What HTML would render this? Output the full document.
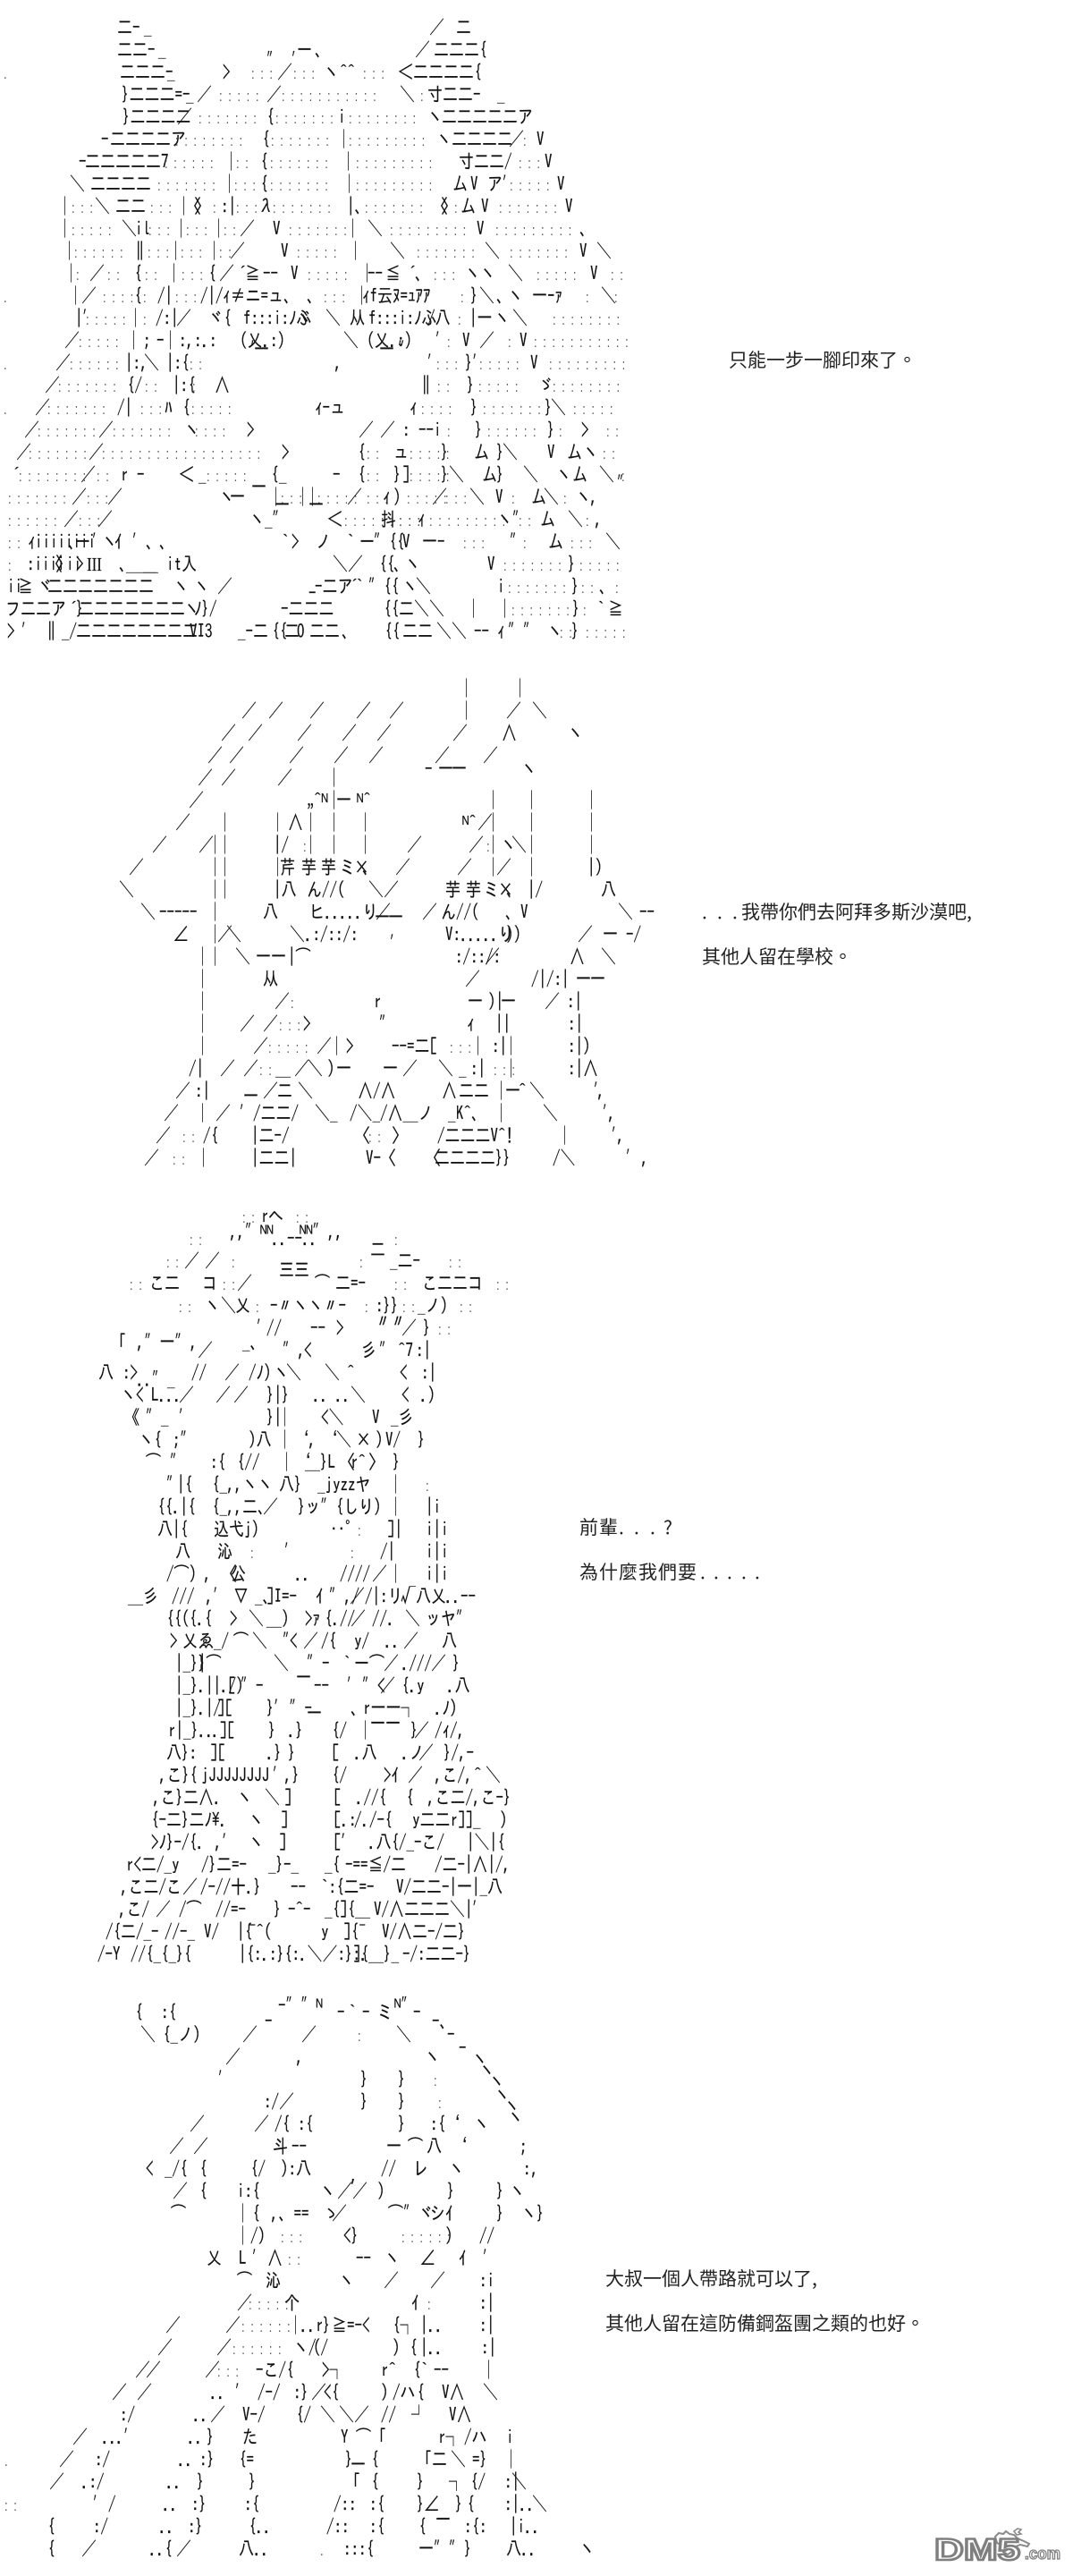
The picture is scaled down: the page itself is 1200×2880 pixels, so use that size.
<!DOCTYPE html>
<html lang="zh-Hant"><head><meta charset="utf-8"><title>AA</title>
<style>
html,body{margin:0;padding:0;background:#fff;width:1200px;height:2880px;overflow:hidden}
svg{display:block;position:absolute;left:0;top:0}
.a text{font-family:IPAGothic,"Noto Sans CJK JP","Liberation Sans",sans-serif;font-size:17px;fill:#111;stroke:#111;stroke-width:.15px}
.a .d{font-family:"Liberation Sans",sans-serif;font-size:13px;letter-spacing:6.6px;fill:#555;stroke:none}
.t text{font-family:"WenQuanYi Zen Hei","Noto Sans CJK TC","Liberation Sans",sans-serif;font-size:21px;fill:#222}
</style></head><body>
<svg width="1200" height="2880" viewBox="0 0 1200 2880" xmlns="http://www.w3.org/2000/svg">
<g class="a" transform="translate(0 2) scale(1 1.25)">
<!-- AA 1 -->
<text y="28.8"><tspan x="131">二-</tspan><tspan x="161">_</tspan><tspan x="480">／</tspan><tspan x="510">二</tspan></text>
<text y="48.8"><tspan x="131">二二-</tspan><tspan x="177">_</tspan><tspan x="332">ー</tspan><tspan x="352">、</tspan><tspan x="464">／</tspan><tspan x="485">二二二{</tspan></text>
<text y="58"><tspan x="298">″</tspan><tspan x="326">′</tspan></text>
<text y="68.8"><tspan class="d" x="4">.</tspan><tspan x="134">二二二-</tspan><tspan x="187">_</tspan><tspan x="249">&gt;</tspan><tspan class="d" x="281">:::</tspan><tspan x="310">／</tspan><tspan class="d" x="328">:::</tspan><tspan x="362">丶</tspan><tspan x="380">^^</tspan><tspan class="d" x="406">:::</tspan><tspan x="445">＜二二二二{</tspan></text>
<text y="88.8"><tspan x="136">}二二二=-</tspan><tspan x="208">_</tspan><tspan x="220">／</tspan><tspan class="d" x="245">:::::</tspan><tspan x="298">／</tspan><tspan class="d" x="315">:::::::::::</tspan><tspan x="447">＼</tspan><tspan class="d" x="470">:</tspan><tspan x="478">寸二二-</tspan><tspan x="556">_</tspan></text>
<text y="108.8"><tspan x="137">}二二二二</tspan><tspan x="198">／</tspan><tspan class="d" x="222">:::::::</tspan><tspan x="298">{</tspan><tspan class="d" x="308">:::::::</tspan><tspan x="378">i</tspan><tspan class="d" x="390">::::::::</tspan><tspan x="478">丶</tspan><tspan x="494">二二二二二ア</tspan></text>
<text y="128.8"><tspan x="113">-</tspan><tspan x="123">二二二二ア</tspan><tspan class="d" x="196">::::::::</tspan><tspan x="293">{</tspan><tspan class="d" x="303">:::::::</tspan><tspan x="376">│</tspan><tspan class="d" x="390">:::::::::</tspan><tspan x="488">丶</tspan><tspan x="505">二二二二</tspan><tspan x="569">／</tspan><tspan class="d" x="585">:</tspan><tspan x="600">V</tspan></text>
<text y="148.8"><tspan x="88">-</tspan><tspan x="95">二二二二二7</tspan><tspan class="d" x="184">::::::</tspan><tspan x="250">│</tspan><tspan class="d" x="264">::</tspan><tspan x="291">{</tspan><tspan class="d" x="302">:::::::</tspan><tspan x="381">│</tspan><tspan class="d" x="398">:::::::::</tspan><tspan x="513">寸二二/</tspan><tspan class="d" x="580">:::</tspan><tspan x="609">V</tspan></text>
<text y="168.8"><tspan x="78">＼</tspan><tspan x="101">二二二二</tspan><tspan class="d" x="176">:::::::</tspan><tspan x="248">│</tspan><tspan class="d" x="262">:::</tspan><tspan x="291">{</tspan><tspan class="d" x="302">:::::::</tspan><tspan x="382">│</tspan><tspan class="d" x="398">:::::::::</tspan><tspan x="506">厶</tspan><tspan x="526">V</tspan><tspan x="545">ア′</tspan><tspan class="d" x="570">:::::</tspan><tspan x="623">V</tspan></text>
<text y="188.8"><tspan x="64">│</tspan><tspan class="d" x="80">:::</tspan><tspan x="106">＼</tspan><tspan x="129">二二</tspan><tspan class="d" x="168">:::</tspan><tspan x="197">│</tspan><tspan x="208">〈</tspan><tspan x="217">〉</tspan><tspan class="d" x="238">:</tspan><tspan x="247">:|</tspan><tspan class="d" x="264">:::</tspan><tspan x="289">λ</tspan><tspan class="d" x="305">:::::::</tspan><tspan x="388">|、</tspan><tspan class="d" x="408">:::::::</tspan><tspan x="484">〈</tspan><tspan x="493">〉</tspan><tspan class="d" x="508">:</tspan><tspan x="515">厶</tspan><tspan x="538">V</tspan><tspan class="d" x="558">:::::::</tspan><tspan x="632">V</tspan></text>
<text y="208.8"><tspan x="64">│</tspan><tspan class="d" x="80">:::::</tspan><tspan x="136">＼</tspan><tspan x="151">il</tspan><tspan class="d" x="166">:::</tspan><tspan x="194">│</tspan><tspan class="d" x="208">:::</tspan><tspan x="236">│</tspan><tspan class="d" x="250">::</tspan><tspan x="268">／</tspan><tspan x="305">V</tspan><tspan class="d" x="323">:::::::</tspan><tspan x="386">│</tspan><tspan x="411">＼</tspan><tspan class="d" x="436">:::::::::</tspan><tspan x="533">V</tspan><tspan class="d" x="554">:::::::::</tspan><tspan x="648">､</tspan></text>
<text y="228.8"><tspan x="69">│</tspan><tspan class="d" x="83">::::::</tspan><tspan x="148">‖</tspan><tspan class="d" x="165">:::</tspan><tspan x="188">│</tspan><tspan class="d" x="202">:::</tspan><tspan x="231">│</tspan><tspan class="d" x="245">::</tspan><tspan x="257">／</tspan><tspan x="314">V</tspan><tspan class="d" x="332">:::::</tspan><tspan x="389">│</tspan><tspan x="436">＼</tspan><tspan class="d" x="466">:::::::</tspan><tspan x="542">＼</tspan><tspan class="d" x="570">:::::::</tspan><tspan x="648">V</tspan><tspan x="667">＼</tspan></text>
<text y="248.8"><tspan x="71">│</tspan><tspan class="d" x="85">:</tspan><tspan x="100">／</tspan><tspan class="d" x="120">::</tspan><tspan x="150">{</tspan><tspan class="d" x="162">::</tspan><tspan x="186">│</tspan><tspan class="d" x="203">:::</tspan><tspan x="233">{</tspan><tspan x="245">／</tspan><tspan x="263">´</tspan><tspan x="274">≧</tspan><tspan x="294">--</tspan><tspan x="325">V</tspan><tspan class="d" x="344">:::::</tspan><tspan x="402">│</tspan><tspan x="411">--</tspan><tspan x="431">≦</tspan><tspan x="453">´</tspan><tspan x="464">､</tspan><tspan class="d" x="485">:::</tspan><tspan x="520">丶丶</tspan><tspan x="568">＼</tspan><tspan class="d" x="600">:::::</tspan><tspan x="660">V</tspan><tspan class="d" x="683">::</tspan></text>
<text y="268.8"><tspan class="d" x="4">.</tspan><tspan x="76">│</tspan><tspan x="91">／</tspan><tspan class="d" x="115">::::</tspan><tspan x="150">{</tspan><tspan class="d" x="160">:</tspan><tspan x="176">/|</tspan><tspan class="d" x="196">:::</tspan><tspan x="224">/|/</tspan><tspan x="249">ｨ≠ニ=ュ、</tspan><tspan x="343">、</tspan><tspan class="d" x="362">:::</tspan><tspan x="396">│</tspan><tspan x="405">ｨf云ﾇ=ｭｱｱ</tspan><tspan class="d" x="515">:</tspan><tspan x="526">}</tspan><tspan x="536">＼</tspan><tspan x="555">、</tspan><tspan x="568">丶</tspan><tspan x="595">一ｰｧ</tspan><tspan class="d" x="655">:</tspan><tspan x="672">＼</tspan><tspan class="d" x="687">:</tspan></text>
<text y="288.8"><tspan x="84">|′</tspan><tspan class="d" x="96">:::::</tspan><tspan x="143">│</tspan><tspan class="d" x="160">:</tspan><tspan x="174">/:|</tspan><tspan x="197">／</tspan><tspan x="233">ヾ{</tspan><tspan x="272">f:::i:ﾉふ</tspan><tspan x="332">ヾ</tspan><tspan x="364">＼</tspan><tspan x="391">从</tspan><tspan x="412">f:::i:ﾉふ</tspan><tspan x="478">/八</tspan><tspan class="d" x="512">:</tspan><tspan x="525">|一</tspan><tspan x="553">丶</tspan><tspan x="573">＼</tspan><tspan class="d" x="618">::::::::</tspan></text>
<text y="308.8"><tspan x="72">／</tspan><tspan class="d" x="88">:::::</tspan><tspan x="141">│</tspan><tspan x="160">;</tspan><tspan x="175">-</tspan><tspan x="182">│</tspan><tspan x="200">:,:.:</tspan><tspan x="268">(乂.:)</tspan><tspan x="384">＼</tspan><tspan x="410">(乂.:)</tspan><tspan x="487">′</tspan><tspan class="d" x="500">:</tspan><tspan x="517">V</tspan><tspan x="536">／</tspan><tspan class="d" x="568">:</tspan><tspan x="581">V</tspan><tspan class="d" x="597">:::::::::::</tspan></text>
<text y="317"><tspan x="280">′</tspan><tspan x="284">一</tspan><tspan x="424">一</tspan><tspan x="445">″</tspan></text>
<text y="328.8"><tspan class="d" x="4">.</tspan><tspan x="62">／</tspan><tspan class="d" x="78">::::::</tspan><tspan x="140">|:,</tspan><tspan x="161">＼</tspan><tspan x="186">|:{</tspan><tspan class="d" x="212">::</tspan><tspan x="374">,</tspan><tspan x="478">′</tspan><tspan class="d" x="488">:::</tspan><tspan x="520">}′</tspan><tspan class="d" x="536">:::::</tspan><tspan x="593">V</tspan><tspan class="d" x="614">:::::::::</tspan></text>
<text y="348.8"><tspan x="50">／</tspan><tspan class="d" x="65">:::::::</tspan><tspan x="142">{/</tspan><tspan class="d" x="162">::</tspan><tspan x="193">|:{</tspan><tspan class="d" x="215">:</tspan><tspan x="240">∧</tspan><tspan x="468">‖</tspan><tspan class="d" x="489">::</tspan><tspan x="522">}</tspan><tspan class="d" x="535">:::::</tspan><tspan x="602">ゞ</tspan><tspan class="d" x="618">::::::::</tspan></text>
<text y="368.8"><tspan class="d" x="4">.</tspan><tspan x="39">／</tspan><tspan class="d" x="53">:::::::</tspan><tspan x="131">/|</tspan><tspan class="d" x="157">:::</tspan><tspan x="184">ﾊ</tspan><tspan x="204">{</tspan><tspan class="d" x="214">:::::</tspan><tspan x="352">ｨ-ュ</tspan><tspan x="458">ｨ</tspan><tspan class="d" x="471">::::</tspan><tspan x="526">}</tspan><tspan class="d" x="540">:::::::</tspan><tspan x="609">}</tspan><tspan x="616">＼</tspan><tspan class="d" x="641">:::::</tspan></text>
<text y="388.8"><tspan x="27">／</tspan><tspan class="d" x="42">:::::::</tspan><tspan x="110">／</tspan><tspan class="d" x="126">:::::::</tspan><tspan x="206">丶</tspan><tspan class="d" x="218">::::</tspan><tspan x="276">&gt;</tspan><tspan x="401">／</tspan><tspan x="425">／</tspan><tspan x="450">:</tspan><tspan x="468">--i</tspan><tspan class="d" x="500">:</tspan><tspan x="531">}</tspan><tspan class="d" x="545">::::::</tspan><tspan x="612">}</tspan><tspan class="d" x="625">:</tspan><tspan x="650">&gt;</tspan><tspan class="d" x="678">::</tspan></text>
<text y="408.8"><tspan x="18">／</tspan><tspan class="d" x="32">:::::::</tspan><tspan x="99">／</tspan><tspan class="d" x="114">::::::::::::::::::</tspan><tspan x="315">&gt;</tspan><tspan x="400">{</tspan><tspan class="d" x="410">::</tspan><tspan x="440">ュ</tspan><tspan class="d" x="458">:::::</tspan><tspan x="493">}</tspan><tspan x="530">厶</tspan><tspan x="555">}</tspan><tspan x="562">＼</tspan><tspan x="612">V</tspan><tspan x="634">厶</tspan><tspan x="652">丶</tspan><tspan class="d" x="674">::</tspan></text>
<text y="428.8"><tspan x="10">´</tspan><tspan class="d" x="21">::::::::</tspan><tspan x="90">／</tspan><tspan class="d" x="108">::</tspan><tspan x="135">r</tspan><tspan x="153">-</tspan><tspan x="200">＜</tspan><tspan x="222">_</tspan><tspan class="d" x="231">:::::</tspan><tspan x="303">{</tspan><tspan x="312">_</tspan><tspan x="372">-</tspan><tspan x="400">{</tspan><tspan class="d" x="410">::</tspan><tspan x="440">}</tspan><tspan x="450">]</tspan><tspan class="d" x="458">:::::</tspan><tspan x="493">}</tspan><tspan x="502">＼</tspan><tspan x="539">厶</tspan><tspan x="555">}</tspan><tspan x="585">＼</tspan><tspan x="622">丶</tspan><tspan x="640">厶</tspan><tspan x="670">＼</tspan><tspan class="d" x="695">:</tspan></text>
<text y="448.8"><tspan class="d" x="9">:::::::</tspan><tspan x="80">／</tspan><tspan class="d" x="97">:::</tspan><tspan x="120">／</tspan><tspan x="245">丶</tspan><tspan x="257">一</tspan><tspan x="281" y="440">一</tspan><tspan x="300" y="448.8">│</tspan><tspan class="d" x="314">:::</tspan><tspan x="330">│</tspan><tspan x="341">│</tspan><tspan class="d" x="355">:::::</tspan><tspan x="388">／</tspan><tspan class="d" x="410">:::</tspan><tspan x="428">ｨ</tspan><tspan x="440">)</tspan><tspan class="d" x="455">:::::</tspan><tspan x="483">／</tspan><tspan class="d" x="498">:::</tspan><tspan x="525">＼</tspan><tspan x="554">V</tspan><tspan class="d" x="572">:</tspan><tspan x="594">厶</tspan><tspan x="608">＼</tspan><tspan class="d" x="630">:</tspan><tspan x="644">丶</tspan><tspan x="660">,</tspan><tspan x="690" y="437">″</tspan></text>
<text y="456"><tspan x="307">一</tspan><tspan x="345">一</tspan></text>
<text y="468.8"><tspan class="d" x="9">::::::</tspan><tspan x="71">／</tspan><tspan class="d" x="88">:::</tspan><tspan x="109">／</tspan><tspan x="279">丶</tspan><tspan x="296">_″</tspan><tspan x="366">＜</tspan><tspan class="d" x="385">:::::::::</tspan><tspan x="426">抖</tspan><tspan class="d" x="446">:::</tspan><tspan x="467">ｨ</tspan><tspan class="d" x="480">:::::::::</tspan><tspan x="556">丶″</tspan><tspan class="d" x="580">::</tspan><tspan x="604">厶</tspan><tspan x="635">＼</tspan><tspan class="d" x="655">:</tspan><tspan x="665">,</tspan></text>
<text y="488.8"><tspan class="d" x="9">::</tspan><tspan x="31">ｨ</tspan><tspan x="39">iiiiiiii</tspan><tspan x="76">、</tspan><tspan x="84">ー</tspan><tspan x="103">′</tspan><tspan x="114">丶</tspan><tspan x="128">ｲ</tspan><tspan x="148">′</tspan><tspan x="163">､</tspan><tspan x="178">､</tspan><tspan x="315">`</tspan><tspan x="326">&gt;</tspan><tspan x="353">ノ</tspan><tspan x="388">`</tspan><tspan x="402">ー</tspan><tspan x="418">″{{</tspan><tspan x="450">V</tspan><tspan x="472">一-</tspan><tspan class="d" x="518">:::</tspan><tspan x="570">″</tspan><tspan class="d" x="585">:</tspan><tspan x="613">厶</tspan><tspan class="d" x="638">:::</tspan><tspan x="677">＼</tspan></text>
<text y="508.8"><tspan class="d" x="9">:</tspan><tspan x="30">:iiii</tspan><tspan x="53">〈</tspan><tspan x="62">〉</tspan><tspan x="74">ii</tspan><tspan x="85">&gt;</tspan><tspan x="97" style="font-family:'Liberation Serif',serif">III</tspan><tspan x="133">、</tspan><tspan x="141">＿＿</tspan><tspan x="160">＿</tspan><tspan x="186">it入</tspan><tspan x="372">＼／</tspan><tspan x="424">{{</tspan><tspan x="440">、</tspan><tspan x="453">丶</tspan><tspan x="545">V</tspan><tspan class="d" x="563">:::::::</tspan><tspan x="635">}</tspan><tspan class="d" x="648">:::::</tspan></text>
<text y="528.8"><tspan x="8">ii</tspan><tspan x="20">≧</tspan><tspan x="42">ヾ</tspan><tspan x="53">二二二二二二二</tspan><tspan x="194">丶</tspan><tspan x="217">丶</tspan><tspan x="243">／</tspan><tspan x="352">-二ア</tspan><tspan x="388">´</tspan><tspan x="398">`</tspan><tspan x="412">″{{</tspan><tspan x="450">丶</tspan><tspan x="465">＼</tspan><tspan x="556">i</tspan><tspan class="d" x="568">:::::::</tspan><tspan x="639">}</tspan><tspan class="d" x="650">::</tspan><tspan x="670">、</tspan><tspan class="d" x="688">:</tspan></text>
<text y="548.8"><tspan x="6">フ二二ア</tspan><tspan x="74">´</tspan><tspan x="85">}</tspan><tspan x="88">二二二二二二二</tspan><tspan x="206">丶</tspan><tspan x="217">ﾉ}/</tspan><tspan x="314">-二二二</tspan><tspan x="345" y="535">-</tspan><tspan x="429" y="548.8">{{二</tspan><tspan x="463">＼＼</tspan><tspan x="521">│</tspan><tspan x="556">│</tspan><tspan class="d" x="572">:::::::</tspan><tspan x="640">}</tspan><tspan class="d" x="652">:</tspan><tspan x="668">`</tspan><tspan x="680">≧</tspan></text>
<text y="568.8"><tspan x="8">&gt;</tspan><tspan x="24">′</tspan><tspan x="49">‖</tspan><tspan x="69">_/</tspan><tspan x="85">二二二二二二二二</tspan><tspan x="212">VI3</tspan><tspan x="266">_-</tspan><tspan x="283">二</tspan><tspan x="304">{{</tspan><tspan x="318">二</tspan><tspan x="332">O</tspan><tspan x="346">二二</tspan><tspan x="382">、</tspan><tspan x="430">{{</tspan><tspan x="450">二二</tspan><tspan x="488">＼＼</tspan><tspan x="530">--</tspan><tspan x="556">ｨ</tspan><tspan x="568">″″</tspan><tspan x="612">丶</tspan><tspan class="d" x="626">::</tspan><tspan x="639">}</tspan><tspan class="d" x="655">:::::</tspan></text>

<!-- AA 2 -->
<text y="620"><tspan x="513">│</tspan><tspan x="573">│</tspan></text>
<text y="640"><tspan x="270">／</tspan><tspan x="300">／</tspan><tspan x="346">／</tspan><tspan x="398">／</tspan><tspan x="435">／</tspan><tspan x="513">│</tspan><tspan x="566">／</tspan><tspan x="595">＼</tspan></text>
<text y="660"><tspan x="247">／</tspan><tspan x="277">／</tspan><tspan x="332">／</tspan><tspan x="382">／</tspan><tspan x="421">／</tspan><tspan x="506">／</tspan><tspan x="561">∧</tspan><tspan x="635">丶</tspan></text>
<text y="680"><tspan x="232">／</tspan><tspan x="256">／</tspan><tspan x="323">／</tspan><tspan x="373">／</tspan><tspan x="412">／</tspan><tspan x="486">／</tspan><tspan x="540">／</tspan></text>
<text y="692"><tspan x="475">-</tspan><tspan x="490">一</tspan><tspan x="505">一</tspan><tspan x="583">丶</tspan></text>
<text y="700"><tspan x="221">／</tspan><tspan x="247">／</tspan><tspan x="310">／</tspan><tspan x="365">│</tspan></text>
<text y="720"><tspan x="211">／</tspan><tspan x="343">„^ᴺ</tspan><tspan x="365">│</tspan><tspan x="376">一</tspan><tspan x="399">ᴺ^</tspan><tspan x="543">│</tspan><tspan x="586">│</tspan><tspan x="653">│</tspan></text>
<text y="740"><tspan x="196">／</tspan><tspan x="243">│</tspan><tspan x="302">│</tspan><tspan x="322">∧</tspan><tspan x="339">│</tspan><tspan x="365">│</tspan><tspan x="400">│</tspan><tspan x="517">ᴺ^</tspan><tspan x="534">／</tspan><tspan x="543">│</tspan><tspan x="586">│</tspan><tspan x="653">│</tspan></text>
<text y="760"><tspan x="170">／</tspan><tspan x="222">／</tspan><tspan x="232">│</tspan><tspan x="243">│</tspan><tspan x="306">|/</tspan><tspan class="d" x="339">:</tspan><tspan x="339">│</tspan><tspan x="365">│</tspan><tspan x="400">│</tspan><tspan x="455">／</tspan><tspan x="524">／</tspan><tspan class="d" x="544">:</tspan><tspan x="543">│</tspan><tspan x="560">丶</tspan><tspan x="572">＼</tspan><tspan x="586">│</tspan><tspan x="653">│</tspan></text>
<text y="780"><tspan x="144">／</tspan><tspan x="232">│</tspan><tspan x="243">│</tspan><tspan x="302">│</tspan><tspan x="313">芹</tspan><tspan x="337">芋</tspan><tspan x="359">芋</tspan><tspan x="380">ミ</tspan><tspan x="396">×</tspan><tspan x="405">、</tspan><tspan x="442">／</tspan><tspan x="511">／</tspan><tspan x="543">│</tspan><tspan x="555">／</tspan><tspan x="586">│</tspan><tspan x="657">|)</tspan></text>
<text y="800"><tspan x="133">＼</tspan><tspan x="232">│</tspan><tspan x="243">│</tspan><tspan x="306">|八</tspan><tspan x="343">ん//(</tspan><tspan x="412">＼／</tspan><tspan x="498">芋</tspan><tspan x="521">芋</tspan><tspan x="541">ミ</tspan><tspan x="557">×</tspan><tspan x="566">、</tspan><tspan x="590">|/</tspan><tspan x="672">八</tspan></text>
<text y="820"><tspan x="157">＼</tspan><tspan x="178">-----</tspan><tspan x="232">│</tspan><tspan x="294">八</tspan><tspan x="346">ヒ.....り</tspan><tspan x="420">／</tspan><tspan x="472">／</tspan><tspan x="493">ん//(</tspan><tspan x="565">、V</tspan><tspan x="691">＼</tspan><tspan x="715">--</tspan></text>
<text y="825"><tspan x="419">一</tspan><tspan x="434">一</tspan></text>
<text y="840"><tspan x="194">∠</tspan><tspan x="232">│</tspan><tspan x="243">／</tspan><tspan x="253">＼</tspan><tspan x="324">＼</tspan><tspan x="341">.:/::/:</tspan><tspan x="498">V:.....り</tspan><tspan x="566">))</tspan><tspan x="646">／</tspan><tspan x="674">一</tspan><tspan x="700">-/</tspan></text>
<text y="860"><tspan x="218">│</tspan><tspan x="232">│</tspan><tspan x="263">＼</tspan><tspan x="286">一一</tspan><tspan x="322">|⌒</tspan><tspan x="436" y="848">′</tspan><tspan x="509" y="860">:/::/:</tspan><tspan x="542">／</tspan><tspan x="637">∧</tspan><tspan x="672">＼</tspan></text>
<text y="880"><tspan x="218">│</tspan><tspan x="294">从</tspan><tspan x="520">／</tspan><tspan x="594">/|/:|</tspan><tspan x="644">一</tspan><tspan x="660">一</tspan></text>
<text y="900"><tspan x="218">│</tspan><tspan x="307">／</tspan><tspan class="d" x="325">:</tspan><tspan x="418">r</tspan><tspan x="523">一</tspan><tspan x="546">)|</tspan><tspan x="560">一</tspan><tspan x="609">／</tspan><tspan x="634">:|</tspan></text>
<text y="920"><tspan x="218">│</tspan><tspan x="268">／</tspan><tspan x="294">／</tspan><tspan class="d" x="312">:::</tspan><tspan x="339">&gt;</tspan><tspan x="424">″</tspan><tspan x="522">ｨ</tspan><tspan x="554">||</tspan><tspan x="635">:|</tspan></text>
<text y="940"><tspan x="218">│</tspan><tspan x="283">／</tspan><tspan class="d" x="300">:::::</tspan><tspan x="354">／</tspan><tspan x="368">│</tspan><tspan x="387">&gt;</tspan><tspan x="438">--=二[</tspan><tspan class="d" x="503">:::</tspan><tspan x="526">│</tspan><tspan x="550">:|</tspan><tspan x="563">│</tspan><tspan x="635">:|)</tspan></text>
<text y="960"><tspan x="211">/|</tspan><tspan x="246">／</tspan><tspan x="272">／</tspan><tspan class="d" x="290">::</tspan><tspan x="308">__</tspan><tspan x="329">／</tspan><tspan x="344">＼</tspan><tspan x="366">)</tspan><tspan x="376">一</tspan><tspan x="428">一</tspan><tspan x="450">／</tspan><tspan x="490">＼</tspan><tspan x="513">_</tspan><tspan x="526">:|</tspan><tspan class="d" x="552">:::</tspan><tspan x="563">│</tspan><tspan x="635">:|∧</tspan></text>
<text y="980"><tspan x="196">／</tspan><tspan x="218">:|</tspan><tspan x="272" y="985">一</tspan><tspan x="294" y="980">／</tspan><tspan x="310">二</tspan><tspan x="333">＼</tspan><tspan x="400">∧/∧</tspan><tspan x="494">∧</tspan><tspan x="513">二二</tspan><tspan x="552">│</tspan><tspan x="565">一</tspan><tspan x="580">^</tspan><tspan x="592">＼</tspan><tspan x="664">′</tspan><tspan x="668">,</tspan></text>
<text y="1000"><tspan x="183">／</tspan><tspan x="218">│</tspan><tspan x="241">／</tspan><tspan x="268">′</tspan><tspan x="283">/二二/</tspan><tspan x="352">＼_</tspan><tspan x="391">/＼_/∧__ノ</tspan><tspan x="501">_</tspan><tspan x="510">K^、</tspan><tspan x="552">│</tspan><tspan x="607">＼</tspan><tspan x="674">′</tspan><tspan x="680">,</tspan></text>
<text y="1020"><tspan x="174">／</tspan><tspan class="d" x="204">::</tspan><tspan x="227">/{</tspan><tspan x="281">|二-/</tspan><tspan x="397">〈</tspan><tspan class="d" x="412">::</tspan><tspan x="438">〉</tspan><tspan x="489">/二二二V^!</tspan><tspan x="623">│</tspan><tspan x="684">′</tspan><tspan x="690">,</tspan></text>
<text y="1040"><tspan x="161">／</tspan><tspan class="d" x="193">::</tspan><tspan x="219">│</tspan><tspan x="281">|二二|</tspan><tspan x="409">V-〈</tspan><tspan x="476">〈</tspan><tspan x="486">二二二二}}</tspan><tspan x="618">/＼</tspan><tspan x="700">′,</tspan></text>

<!-- AA 3 -->
<text y="1092"><tspan class="d" x="271">::</tspan><tspan x="292">r</tspan><tspan x="300">へ</tspan><tspan class="d" x="331">::</tspan></text>
<text y="1106"><tspan x="257">,,″ᴺᴺ</tspan><tspan x="335">ᴺᴺ″,,</tspan></text>
<text y="1112"><tspan class="d" x="212">::</tspan><tspan x="304">..--..</tspan><tspan class="d" x="441">:</tspan></text>
<text y="1132"><tspan class="d" x="186">::</tspan><tspan x="206">／</tspan><tspan x="229">／</tspan><tspan class="d" x="259">:</tspan><tspan class="d" x="402">:</tspan><tspan x="414" y="1122">二</tspan><tspan x="436" y="1132">_二-</tspan><tspan class="d" x="502">::</tspan></text>
<text y="1140"><tspan x="312">三三</tspan></text>
<text y="1152"><tspan class="d" x="145">::</tspan><tspan x="167">こ二</tspan><tspan x="226">コ</tspan><tspan class="d" x="249">::</tspan><tspan x="265">／</tspan><tspan x="352">⌒</tspan><tspan x="375">二=-</tspan><tspan class="d" x="441">::</tspan><tspan x="472">こ二二コ</tspan><tspan class="d" x="555">::</tspan></text>
<text y="1172"><tspan class="d" x="200">::</tspan><tspan x="229">丶</tspan><tspan x="247">＼</tspan><tspan x="263">乂</tspan><tspan class="d" x="286">:</tspan><tspan x="302">-〃丶丶〃-</tspan><tspan class="d" x="408">:</tspan><tspan x="420">:}}</tspan><tspan class="d" x="450">::</tspan><tspan x="467">_ノ)</tspan><tspan class="d" x="514">::</tspan></text>
<text y="1192"><tspan x="287">′</tspan><tspan x="298">//</tspan><tspan x="347">--</tspan><tspan x="376">&gt;</tspan><tspan x="420" y="1186">〃〃</tspan><tspan x="449" y="1192">／</tspan><tspan x="473">}</tspan><tspan class="d" x="490">::</tspan></text>
<text y="1212"><tspan x="124" y="1205">「</tspan><tspan x="153" y="1205">,″一″,</tspan><tspan x="221" y="1212">／</tspan><tspan x="271" y="1205">_、</tspan><tspan x="316" y="1212">″,</tspan><tspan x="340">&lt;</tspan><tspan x="404">彡</tspan><tspan x="424">″</tspan><tspan x="445">^7</tspan><tspan x="465">:|</tspan></text>
<text y="1232"><tspan x="110">八</tspan><tspan x="137">:&gt;</tspan><tspan x="153" y="1238">..″_</tspan><tspan x="214" y="1232">//</tspan><tspan x="251">／</tspan><tspan x="278">/ﾉ)</tspan><tspan x="306">丶</tspan><tspan x="320">＼</tspan><tspan x="363">＼</tspan><tspan x="388">^</tspan><tspan x="447">&lt;</tspan><tspan x="471">:|</tspan></text>
<text y="1252"><tspan x="135">丶&lt;</tspan><tspan x="169">L...</tspan><tspan x="200">／</tspan><tspan x="241">／</tspan><tspan x="261">／</tspan><tspan x="298">}|}</tspan><tspan x="350">..</tspan><tspan x="375">..</tspan><tspan x="392">＼</tspan><tspan x="449">&lt;</tspan><tspan x="470">.)</tspan></text>
<text y="1272"><tspan x="139">《</tspan><tspan x="163">″_</tspan><tspan x="200">′</tspan><tspan x="298">}|</tspan><tspan x="310">│</tspan><tspan x="359">&lt;＼</tspan><tspan x="416">V</tspan><tspan x="437">_彡</tspan></text>
<text y="1292"><tspan x="155">丶{</tspan><tspan x="193">;″</tspan><tspan x="278">)八</tspan><tspan x="310">│</tspan><tspan x="328">‘,</tspan><tspan x="360">‘</tspan><tspan x="376">＼</tspan><tspan x="398">×</tspan><tspan x="420">)</tspan><tspan x="431">V/</tspan><tspan x="467">}</tspan></text>
<text y="1312"><tspan x="163">⌒</tspan><tspan x="190">″</tspan><tspan x="235">:{</tspan><tspan x="265">{//</tspan><tspan x="312">│</tspan><tspan x="330">‘</tspan><tspan x="341">__}L</tspan><tspan x="380">〈</tspan><tspan x="392">r^</tspan><tspan x="412">〉</tspan><tspan x="439">}</tspan></text>
<text y="1332"><tspan x="186">″</tspan><tspan x="198">|{</tspan><tspan x="237">{_,,丶丶</tspan><tspan x="312">八}</tspan><tspan x="355">_jyzzヤ</tspan><tspan x="434">│</tspan><tspan class="d" x="476">:</tspan></text>
<text y="1352"><tspan x="176">{{.|{</tspan><tspan x="237">{_,,二、</tspan><tspan x="294">／</tspan><tspan x="333">}ッ″{しり)</tspan><tspan x="434">│</tspan><tspan x="476">|i</tspan></text>
<text y="1372"><tspan x="176">八|{</tspan><tspan x="239">込弋j)</tspan><tspan x="369">‥°</tspan><tspan class="d" x="400">:</tspan><tspan x="433">]|</tspan><tspan x="476">i|i</tspan></text>
<text y="1392"><tspan x="196">八</tspan><tspan x="243">沁</tspan><tspan class="d" x="280">:</tspan><tspan x="318">′</tspan><tspan class="d" x="392">:</tspan><tspan x="425">/|</tspan><tspan x="476">i|i</tspan></text>
<text y="1412"><tspan x="186">/⌒)</tspan><tspan x="228">,</tspan><tspan x="248">〈</tspan><tspan x="258">公</tspan><tspan x="330">..</tspan><tspan x="380">////</tspan><tspan x="416">／</tspan><tspan x="434">│</tspan><tspan x="476">i|i</tspan></text>
<text y="1432"><tspan x="143">__彡</tspan><tspan x="192">///</tspan><tspan x="230">,′</tspan><tspan x="261">▽</tspan><tspan x="285">_、</tspan><tspan x="298">]I=-</tspan><tspan x="353">ｲ</tspan><tspan x="368">″,/</tspan><tspan x="391">／</tspan><tspan x="408">/|:リ</tspan><tspan x="448">√八乂</tspan><tspan x="498">..--</tspan></text>
<text y="1452"><tspan x="186">{{({.{</tspan><tspan x="257">&gt;</tspan><tspan x="278">＼</tspan><tspan x="298">__)</tspan><tspan x="341">&gt;ｧ</tspan><tspan x="363">{.//</tspan><tspan x="392">／</tspan><tspan x="416">//.</tspan><tspan x="453">＼</tspan><tspan x="476">ッヤ″</tspan></text>
<text y="1472"><tspan x="190">&gt;</tspan><tspan x="204">乂</tspan><tspan x="222">ゑ_/</tspan><tspan x="261">⌒</tspan><tspan x="282">＼</tspan><tspan x="316">″</tspan><tspan x="324">&lt;</tspan><tspan x="339">／</tspan><tspan x="359">/{</tspan><tspan x="396">y/</tspan><tspan x="430">..</tspan><tspan x="451">／</tspan><tspan x="494">八</tspan></text>
<text y="1492"><tspan x="196">|_}}</tspan><tspan x="222">|⌒</tspan><tspan x="306">＼</tspan><tspan x="343">″-</tspan><tspan x="384">`</tspan><tspan x="396">ー⌒</tspan><tspan x="429">／</tspan><tspan x="449">.///</tspan><tspan x="482">／</tspan><tspan x="506">}</tspan></text>
<text y="1512"><tspan x="196">|_}.||./)</tspan><tspan x="255">[</tspan><tspan x="269">″-</tspan><tspan x="331" y="1505">一</tspan><tspan x="351" y="1512">--</tspan><tspan x="388">′″&lt;</tspan><tspan x="425">／</tspan><tspan x="449">{.y</tspan><tspan x="500">.八</tspan></text>
<text y="1532"><tspan x="196">|_}.|/</tspan><tspan x="243">][</tspan><tspan x="298">}′″-</tspan><tspan x="343" y="1537">一</tspan><tspan x="392" y="1532">、</tspan><tspan x="406">r一一┐</tspan><tspan x="486">.ﾉ)</tspan></text>
<text y="1552"><tspan x="188">r|_}..</tspan><tspan x="237">.][</tspan><tspan x="300">}</tspan><tspan x="322">.}</tspan><tspan x="371">{/</tspan><tspan x="400">│</tspan><tspan x="414" y="1546">一一</tspan><tspan x="459" y="1552">}</tspan><tspan x="463">／</tspan><tspan x="486">/ｨ/,</tspan></text>
<text y="1572"><tspan x="186">八}:</tspan><tspan x="235">][</tspan><tspan x="298">.}</tspan><tspan x="322">}</tspan><tspan x="371">[</tspan><tspan x="396">.八</tspan><tspan x="449">.ノ</tspan><tspan x="468">／</tspan><tspan x="496">}/,-</tspan></text>
<text y="1592"><tspan x="178">,こ}{</tspan><tspan x="225">jJJJJJJJJ</tspan><tspan x="305">′</tspan><tspan x="318">,}</tspan><tspan x="371">{/</tspan><tspan x="429">&gt;ｲ</tspan><tspan x="456">／</tspan><tspan x="486">,こ/,</tspan><tspan x="530">^</tspan><tspan x="543">＼</tspan></text>
<text y="1612"><tspan x="171">,こ}二∧.</tspan><tspan x="265">丶</tspan><tspan x="296">＼</tspan><tspan x="318">]</tspan><tspan x="373">[</tspan><tspan x="398">.//{</tspan><tspan x="454">{</tspan><tspan x="478">,こ二/,こ-}</tspan></text>
<text y="1632"><tspan x="169">{-二}二ﾉ\.</tspan><tspan x="278">丶</tspan><tspan x="314">]</tspan><tspan x="373">[.:</tspan><tspan x="396">/./-{</tspan><tspan x="461">y二二r]]_</tspan><tspan x="559">)</tspan></text>
<text y="1652"><tspan x="169">&gt;ﾉ}-/{.</tspan><tspan x="240">,′</tspan><tspan x="278">丶</tspan><tspan x="312">]</tspan><tspan x="373">[′</tspan><tspan x="412">.八{/_-こ/</tspan><tspan x="522">|＼|{</tspan></text>
<text y="1672"><tspan x="141">r&lt;二/_y</tspan><tspan x="225">/}二=-</tspan><tspan x="300">_}-_</tspan><tspan x="363">_{</tspan><tspan x="386">-==≦/二</tspan><tspan x="486">/二-|∧|/,</tspan></text>
<text y="1692"><tspan x="135">,こ二/こ</tspan><tspan x="204">／</tspan><tspan x="224">/-//十.}</tspan><tspan x="325">--</tspan><tspan x="359">`:{二=-</tspan><tspan x="443">V/二二-|一|_八</tspan></text>
<text y="1712"><tspan x="133">,こ/</tspan><tspan x="174">／</tspan><tspan x="200">/⌒</tspan><tspan x="241">//=-</tspan><tspan x="306">}</tspan><tspan x="322">-^-</tspan><tspan x="363">_{]{__</tspan><tspan x="418">V/∧二二二＼|′</tspan></text>
<text y="1732"><tspan x="118">/{二/_-</tspan><tspan x="184">//-_</tspan><tspan x="228">V/</tspan><tspan x="265">|{</tspan><tspan x="278">¯^(</tspan><tspan x="359">y</tspan><tspan x="384">]{¯</tspan><tspan x="427">V/∧二-/二}</tspan></text>
<text y="1752"><tspan x="109">/-Y</tspan><tspan x="146">//{_{_}{</tspan><tspan x="267">|{:.:}{:.＼／:}:.</tspan><tspan x="395">]{__}_</tspan><tspan x="450">-/:二二-}</tspan></text>

<!-- AA 4 -->
<text y="1804"><tspan x="151">{</tspan><tspan x="180">:{</tspan><tspan x="311" y="1798">-″″ᴺ</tspan><tspan x="377" y="1804">-</tspan><tspan x="390">`</tspan><tspan x="405">-</tspan><tspan x="422">ミ</tspan><tspan x="441" y="1798">ᴺ″</tspan><tspan x="462" y="1804">-</tspan></text>
<text y="1824"><tspan x="157">＼</tspan><tspan x="182">{_ノ)</tspan><tspan x="271">／</tspan><tspan x="296" y="1812">-</tspan><tspan x="337" y="1824">／</tspan><tspan class="d" x="400">:</tspan><tspan x="443">＼</tspan><tspan x="483" y="1812">-、</tspan><tspan x="500" y="1824">-</tspan></text>
<text y="1844"><tspan x="252">／</tspan><tspan x="331">,</tspan><tspan x="475">丶</tspan><tspan x="513" y="1836">-</tspan><tspan x="528" y="1846">丶</tspan></text>
<text y="1864"><tspan x="244">′</tspan><tspan x="403">}</tspan><tspan x="445">}</tspan><tspan class="d" x="485">:</tspan><tspan x="536" y="1856">丶</tspan><tspan x="547" y="1866">丶</tspan></text>
<text y="1884"><tspan x="295">:/</tspan><tspan x="312">／</tspan><tspan x="403">}</tspan><tspan x="445">}</tspan><tspan class="d" x="490">:</tspan><tspan x="553" y="1878">丶</tspan><tspan x="564" y="1888">丶</tspan></text>
<text y="1904"><tspan x="212">／</tspan><tspan x="284">／</tspan><tspan x="307">/{</tspan><tspan x="333">:{</tspan><tspan x="445">}</tspan><tspan x="481">:{</tspan><tspan x="497">‘</tspan><tspan x="530">丶</tspan><tspan x="568" y="1898">丶</tspan></text>
<text y="1924"><tspan x="189">／</tspan><tspan x="216">／</tspan><tspan x="305">斗</tspan><tspan x="326">--</tspan><tspan x="432">一</tspan><tspan x="456">⌒</tspan><tspan x="477">八</tspan><tspan x="505">‘</tspan><tspan x="581">;</tspan></text>
<text y="1944"><tspan x="163">&lt;</tspan><tspan x="184">_/{</tspan><tspan x="223">{</tspan><tspan x="280">{/</tspan><tspan x="314">):八</tspan><tspan x="426">//</tspan><tspan x="462">レ</tspan><tspan x="502">丶</tspan><tspan x="585">:</tspan><tspan x="594">,</tspan></text>
<text y="1964"><tspan x="193">／</tspan><tspan x="223">{</tspan><tspan x="265">i:{</tspan><tspan x="358">丶</tspan><tspan x="377">／</tspan><tspan x="394">／</tspan><tspan x="422">)</tspan><tspan x="500">}</tspan><tspan x="555">}</tspan><tspan x="570">丶</tspan><tspan x="392" y="1950">,</tspan></text>
<text y="1984"><tspan x="191">⌒</tspan><tspan x="263">│</tspan><tspan x="282">{</tspan><tspan x="303">,、==</tspan><tspan x="362">ゝ</tspan><tspan x="371">／</tspan><tspan x="434">⌒″ヾ</tspan><tspan x="481">シｲ</tspan><tspan x="555">}</tspan><tspan x="583">丶}</tspan></text>
<text y="2004"><tspan x="263">│</tspan><tspan x="280">/)</tspan><tspan class="d" x="314">:::</tspan><tspan x="384">&lt;}</tspan><tspan class="d" x="449">::::::</tspan><tspan x="498">)</tspan><tspan x="536">//</tspan></text>
<text y="2024"><tspan x="231">乂</tspan><tspan x="267">L</tspan><tspan x="282">′∧</tspan><tspan class="d" x="322">::</tspan><tspan x="398">--</tspan><tspan x="430">丶</tspan><tspan x="470">∠</tspan><tspan x="513">ｲ</tspan><tspan x="540">′</tspan></text>
<text y="2044"><tspan x="265">⌒</tspan><tspan x="297">沁</tspan><tspan x="379">丶</tspan><tspan x="429">／</tspan><tspan x="481">／</tspan><tspan x="536">:i</tspan></text>
<text y="2064"><tspan x="265">／</tspan><tspan class="d" x="278">:::::</tspan><tspan x="318">个</tspan><tspan x="460">ｲ</tspan><tspan class="d" x="478">:</tspan><tspan x="536">:|</tspan></text>
<text y="2084"><tspan x="185">／</tspan><tspan x="252">／</tspan><tspan class="d" x="270">::::::</tspan><tspan x="322">│</tspan><tspan x="336">..r</tspan><tspan x="361">}</tspan><tspan x="371">≧=-&lt;</tspan><tspan x="439">{┐</tspan><tspan x="470">|..</tspan><tspan x="536">:|</tspan></text>
<text y="2104"><tspan x="176">／</tspan><tspan x="242">／</tspan><tspan class="d" x="260">::::::</tspan><tspan x="328">丶/</tspan><tspan x="350">(/</tspan><tspan x="439">)</tspan><tspan x="458">{</tspan><tspan x="470">|..</tspan><tspan x="538">:|</tspan></text>
<text y="2124"><tspan x="151">／</tspan><tspan x="163">／</tspan><tspan x="229">／</tspan><tspan class="d" x="243">:::</tspan><tspan x="286">-こ/{</tspan><tspan x="360">&gt;┐</tspan><tspan x="426">r^</tspan><tspan x="462">{`</tspan><tspan x="485">--</tspan><tspan x="538">│</tspan></text>
<text y="2144"><tspan x="125">／</tspan><tspan x="153">／</tspan><tspan x="235">..</tspan><tspan x="263">′</tspan><tspan x="288">/-/</tspan><tspan x="328">:}</tspan><tspan x="348">／</tspan><tspan x="362">&lt;{</tspan><tspan x="426">)</tspan><tspan x="439">/ハ</tspan><tspan x="466">{</tspan><tspan x="494">V∧</tspan><tspan x="540">＼</tspan></text>
<text y="2164"><tspan x="134">:/</tspan><tspan x="216">..</tspan><tspan x="235">／</tspan><tspan x="271">V-/</tspan><tspan x="331">{/</tspan><tspan x="358">＼</tspan><tspan x="379">＼／</tspan><tspan x="426">//</tspan><tspan x="460">┘</tspan><tspan x="502">V∧</tspan></text>
<text y="2184"><tspan x="81">／</tspan><tspan x="114">..</tspan><tspan x="130">.′</tspan><tspan x="210">..</tspan><tspan x="231">}</tspan><tspan x="271">た</tspan><tspan x="381">Y</tspan><tspan x="398">⌒「</tspan><tspan x="490">r┐</tspan><tspan x="519">/ハ</tspan><tspan x="566">i</tspan></text>
<text y="2204"><tspan class="d" x="5">.</tspan><tspan x="66">／</tspan><tspan x="106">:/</tspan><tspan x="199">..</tspan><tspan x="223">:}</tspan><tspan x="267">{=</tspan><tspan x="386">}</tspan><tspan x="392" y="2209">一</tspan><tspan x="415" y="2204">{</tspan><tspan x="466">「二</tspan><tspan x="504">＼</tspan><tspan x="528">=}</tspan><tspan x="563">│</tspan></text>
<text y="2224"><tspan x="55">／</tspan><tspan x="91">.:/</tspan><tspan x="186">..</tspan><tspan x="220">}</tspan><tspan x="278">}</tspan><tspan x="386">「</tspan><tspan x="415">{</tspan><tspan x="466">}</tspan><tspan x="502">┐</tspan><tspan x="526">{/</tspan><tspan x="564">:|</tspan><tspan x="572">＼</tspan></text>
<text y="2244"><tspan class="d" x="5">::</tspan><tspan x="104">′/</tspan><tspan x="182">..</tspan><tspan x="214">:}</tspan><tspan x="273">:{</tspan><tspan x="373">/::</tspan><tspan x="413">:{</tspan><tspan x="466">}∠</tspan><tspan x="509">}</tspan><tspan x="522">{</tspan><tspan x="564">:|..</tspan><tspan x="595">＼</tspan></text>
<text y="2264"><tspan x="53">{</tspan><tspan x="104">:/</tspan><tspan x="178">..</tspan><tspan x="210">:}</tspan><tspan x="278">{..</tspan><tspan x="365">/::</tspan><tspan x="413">:{</tspan><tspan x="468">{</tspan><tspan x="487" y="2258">一</tspan><tspan x="519" y="2264">:{:</tspan><tspan x="570">|i..</tspan></text>
<text y="2284"><tspan x="53">{</tspan><tspan x="91">／</tspan><tspan x="167">..{</tspan><tspan x="197">／</tspan><tspan x="267">八..</tspan><tspan class="d" x="358">.</tspan><tspan x="384">:::{</tspan><tspan x="468">一″″}</tspan><tspan x="566">八..</tspan><tspan x="648">丶</tspan></text>
</g>

<g class="t">
<text x="815" y="410">只能一步一腳印來了。</text>
<text x="785 802 819" y="1027">...</text><text x="829" y="1027">我帶你們去阿拜多斯沙漠吧,</text>
<text x="785" y="1077">其他人留在學校。</text>
<text x="648 670 692 709 727 742" y="1715">前輩...?</text>
<text x="648 670 692 714 736 758 783 798 813 829 844" y="1765">為什麼我們要.....</text>
<text x="677" y="2555">大叔一個人帶路就可以了,</text>
<text x="677" y="2605">其他人留在這防備鋼盔團之類的也好。</text>
</g>

<g>
<path d="M1113 2836l4-4 5 1 3-3 4 3 5 1 4 4 7 3 6 3-2 3-8-2-5 2-3 5-6 4-5-3-1-7-6-3z" fill="#fff" stroke="#8a8a8a" stroke-width="2"/>
<path d="M1134 2830l4-3 4 1-3 3 3 2-5 1z" fill="#fff" stroke="#8a8a8a" stroke-width="1.6"/>
<text x="1045" y="2862" font-family="Liberation Sans, sans-serif" font-weight="700" font-size="34" textLength="96" lengthAdjust="spacingAndGlyphs" fill="#fff" stroke="#7f7f7f" stroke-width="2.6">DM5</text>
<text x="1146" y="2861" font-family="Liberation Sans, sans-serif" font-weight="700" font-size="18" textLength="40" lengthAdjust="spacingAndGlyphs" fill="#fff" stroke="#7f7f7f" stroke-width="1.3">.com</text>
</g>
</svg>
</body></html>
